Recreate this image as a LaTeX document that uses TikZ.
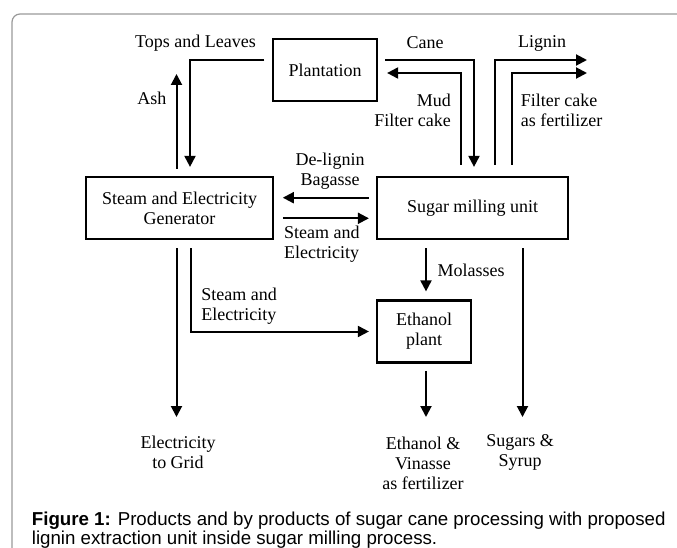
\documentclass[tikz,border=0pt]{standalone}
\usepackage{fontspec}
\setmainfont{Liberation Serif}
\newfontfamily\capfont{Liberation Sans}
\usetikzlibrary{arrows.meta}
\begin{document}
\begin{tikzpicture}[x=1pt,y=-1pt,
  box/.style={draw, line width=2.2pt, inner sep=0pt, align=center, font=\fontsize{18}{20}\selectfont},
  lbl/.style={inner sep=0pt, font=\fontsize{18}{20}\selectfont},
  arr/.style={line width=2pt, -{Triangle[length=11pt,width=11pt]}},
  capstyle/.style={anchor=base west, inner sep=0pt, font=\capfont\fontsize{18.7}{19}\selectfont},
]
\useasboundingbox (0,0) rectangle (677,548);
\draw[black!40, line width=1.2pt, rounded corners=8pt] (12,14) rectangle (700,570);

% boxes
\node[box, minimum width=104pt, minimum height=62pt] (plant) at (325,70) {Plantation};
\node[box, minimum width=187pt, minimum height=62pt] (gen) at (179.5,208) {Steam and Electricity\\Generator};
\node[box, minimum width=191pt, minimum height=62pt] (mill) at (472.5,208) {Sugar milling unit};
\node[box, minimum width=94pt, minimum height=62pt] (eth) at (424,331.5) {Ethanol\\plant};

% free ends
\coordinate (ashend) at (176.5,74);
\coordinate (lig) at (587,60);
\coordinate (fc) at (587,73);
\coordinate (grid) at (176.5,417);
\coordinate (ethout) at (426,417);
\coordinate (sug) at (522.5,417);

% connectors
\draw[arr, shorten <=7.5pt, shorten >=9pt] ([yshift=10pt]plant.west) -| ([xshift=10.5pt]gen.north);
\draw[arr, shorten <=7pt] (ashend |- gen.north) -- (ashend);
\draw[arr, shorten <=7pt, shorten >=9pt] ([yshift=10pt]plant.east) -| ([xshift=1.5pt]mill.north);
\draw[arr, shorten <=11pt, shorten >=9pt] ([xshift=-12pt]mill.north) |- ([yshift=-3pt]plant.east);
\draw[arr, shorten <=11pt] ([xshift=22pt]mill.north) |- (lig);
\draw[arr, shorten <=11pt] ([xshift=39pt]mill.north) |- (fc);
\draw[arr, shorten <=7pt, shorten >=8.7pt] ([yshift=10.3pt]mill.west) -- ([yshift=10.3pt]gen.east);
\draw[arr, shorten <=8.7pt, shorten >=7pt] ([yshift=-10.3pt]gen.east) -- ([yshift=-10.3pt]mill.west);
\draw[arr, shorten <=8pt, shorten >=7pt] ([xshift=11.3pt]gen.south) |- (eth.west);
\draw[arr, shorten <=8pt] (grid |- gen.south) -- (grid);
\draw[arr, shorten <=8pt, shorten >=8pt] (ethout |- mill.south) -- (ethout |- eth.north);
\draw[arr, shorten <=7.3pt] (ethout |- eth.south) -- (ethout);
\draw[arr, shorten <=8pt] (sug |- mill.south) -- (sug);

% labels
\node[lbl] (ltl) at (195.5,43) {Tops and Leaves};
\node[lbl] (lcane) at (425,43) {Cane};
\node[lbl] (llig) at (542,43) {Lignin};
\node[lbl] (lash) at (152,98) {Ash};
\node[lbl, anchor=east, align=right] (lmud) at (451,110.5) {Mud\\Filter cake};
\node[lbl, anchor=west, align=left] (lfc) at (520.7,110.5) {Filter cake\\as fertilizer};
\node[lbl, align=center] (ldel) at (330,171) {De-lignin\\Bagasse};
\node[lbl, anchor=west, align=left] (lse1) at (284,244.6) {Steam and\\Electricity};
\node[lbl, anchor=west] (lmol) at (437.4,270) {Molasses};
\node[lbl, anchor=west, align=left] (lse2) at (201.2,306.2) {Steam and\\Electricity};
\node[lbl, align=center] (lgrid) at (178,452) {Electricity\\to Grid};
\node[lbl, align=center] (leth) at (423,463) {Ethanol \&\\Vinasse\\as fertilizer};
\node[lbl, align=center] (lsug) at (520,452) {Sugars \&\\Syrup};

% caption
\node[capstyle] (cap1) at (31.7,525) {\textbf{Figure 1:} Products and by products of sugar cane processing with proposed};
\node[capstyle] (cap2) at (31.7,544) {lignin extraction unit inside sugar milling process.};
\end{tikzpicture}
\end{document}
